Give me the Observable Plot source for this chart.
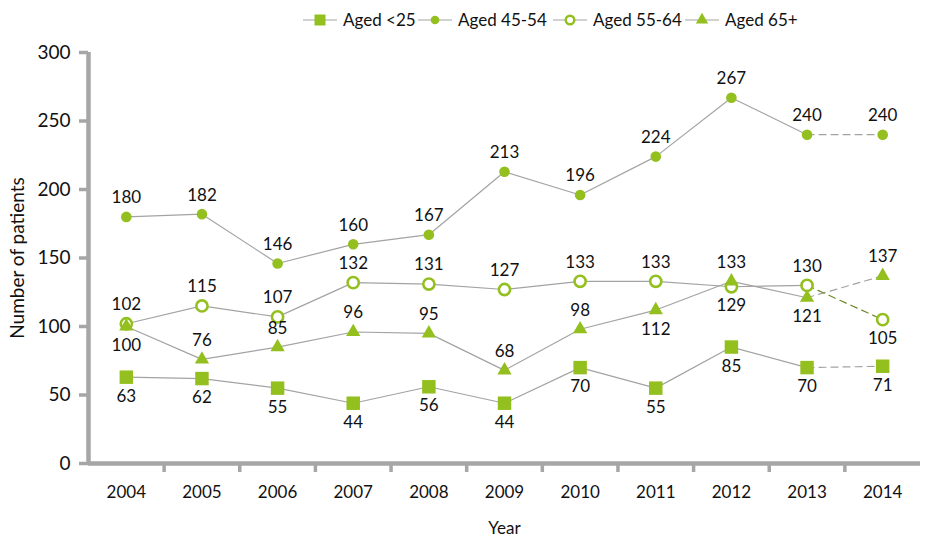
<!DOCTYPE html>
<html>
<head>
<meta charset="utf-8">
<script src="https://cdn.jsdelivr.net/npm/d3@7"></script>
<script src="https://cdn.jsdelivr.net/npm/@observablehq/plot@0.6"></script>
<style>
  html, body { margin: 0; padding: 0; background: #fff; }
  body { width: 934px; height: 541px; overflow: hidden; font-family: Lato, "Noto Sans", sans-serif; }
  #legend { position: relative; height: 40px; }
  .item { position: absolute; top: 9px; display: flex; align-items: center; font-size: 17px; color: #111; }
  .item svg { margin-right: 6px; }
</style>
</head>
<body>
<div id="legend"></div>
<div id="chart"></div>
<script>
const years = [2004, 2005, 2006, 2007, 2008, 2009, 2010, 2011, 2012, 2013, 2014];
const seriesNames = ["Aged <25", "Aged 45-54", "Aged 55-64", "Aged 65+"];
const under25 = [63, 62, 55, 44, 56, 44, 70, 55, 85, 70, 71];
const aged45_54 = [180, 182, 146, 160, 167, 213, 196, 224, 267, 240, 240];
const aged55_64 = [102, 115, 107, 132, 131, 127, 133, 133, 129, 130, 105];
const aged65plus = [100, 76, 85, 96, 95, 68, 98, 112, 133, 121, 137];
// which data labels sit below their point (1) or above (0)
const below25 = [1, 1, 1, 1, 1, 1, 1, 1, 1, 1, 1];
const below45 = [0, 0, 0, 0, 0, 0, 0, 0, 0, 0, 0];
const below55 = [0, 0, 0, 0, 0, 0, 0, 0, 1, 0, 1];
const below65 = [1, 0, 0, 0, 0, 0, 0, 1, 0, 1, 0];
const yTicks = [0, 50, 100, 150, 200, 250, 300];

const green = "#93c01f";
const lineGrey = "#a3a3a3";
const axisGrey = "#a6a6a6";

const valuesList = [under25, aged45_54, aged55_64, aged65plus];
const belowList = [below25, below45, below55, below65];
const symbols = ["square", "circle", "circle", "triangle"];
const fills = [green, green, "white", green];
const radii = [7.6, 5.3, 5.6, 5.3];

const data = [];
seriesNames.forEach((s, i) => years.forEach((yr, j) => data.push({
  series: s, idx: i, year: yr, value: valuesList[i][j], below: belowList[i][j]
})));

const solid = data.filter(d => d.year <= 2013);
const dashed = data.filter(d => d.year >= 2013);
const boundaries = years.slice(0, -1).map(y => y + 0.5);

const dotMarks = seriesNames.map((s, i) => Plot.dot(data.filter(d => d.idx === i), {
  x: "year", y: "value", symbol: () => symbols[i], r: radii[i],
  fill: fills[i], stroke: i === 2 ? green : "none", strokeWidth: i === 2 ? 2.6 : 0
}));

const chart = Plot.plot({
  width: 934,
  height: 501,
  marginLeft: 88,
  marginRight: 14,
  marginTop: 12,
  marginBottom: 78,
  style: { fontFamily: "Lato, 'Noto Sans', sans-serif", fontSize: "17px", color: "#111", background: "white" },
  symbol: { type: "identity" },
  x: { domain: [2003.5, 2014.5] },
  y: { domain: [0, 300] },
  marks: [
    Plot.axisY({ ticks: yTicks, tickSize: 9, tickFormat: () => "", stroke: axisGrey, strokeWidth: 3.5, label: null }),
    Plot.axisY({ ticks: yTicks, tickSize: 0, tickPadding: 18, fontSize: 19, fill: "#111",
      label: "Number of patients", labelAnchor: "center", labelArrow: "none", labelOffset: 78 }),
    Plot.axisX({ ticks: boundaries, tickSize: 9, tickFormat: () => "", stroke: axisGrey, strokeWidth: 3.5, label: null }),
    Plot.axisX({ ticks: years, tickSize: 0, tickPadding: 22, tickFormat: d => String(d),
      label: "Year", labelAnchor: "center", labelArrow: "none", labelOffset: 70, fontSize: 17 }),
    Plot.ruleX([2003.5], { y1: 0, y2: 300, stroke: axisGrey, strokeWidth: 4.5 }),
    Plot.ruleY([0], { x1: 2003.5, x2: 2014.5, stroke: axisGrey, strokeWidth: 4.5 }),
    Plot.line(solid, { x: "year", y: "value", z: "series", stroke: lineGrey, strokeWidth: 1.2 }),
    Plot.line(dashed.filter(d => d.idx !== 2), { x: "year", y: "value", z: "series", stroke: lineGrey, strokeWidth: 1.2, strokeDasharray: "7,5" }),
    Plot.line(dashed.filter(d => d.idx === 2), { x: "year", y: "value", stroke: "#6f8a2a", strokeWidth: 1.2, strokeDasharray: "7,5" }),
    ...dotMarks,
    Plot.text(data.filter(d => d.below), { x: "year", y: "value", text: d => String(d.value),
      dy: 19, fill: "#111", fontSize: 17 }),
    Plot.text(data.filter(d => !d.below), { x: "year", y: "value", text: d => String(d.value),
      dy: -19, fill: "#111", fontSize: 17 })
  ]
});
document.getElementById("chart").appendChild(chart);

// HTML legend above the chart
const legendLeft = [303, 418, 553, 685];
const legendR = [6.2, 4.3, 4.3, 4.6];
const legend = document.getElementById("legend");
seriesNames.forEach((s, i) => {
  const item = document.createElement("div");
  item.className = "item";
  item.style.left = legendLeft[i] + "px";
  const sym = d3.create("svg").attr("width", 34).attr("height", 20);
  sym.append("line").attr("x1", 0).attr("x2", 34).attr("y1", 10).attr("y2", 10).attr("stroke", lineGrey).attr("stroke-width", 1.2);
  const shape = d3.symbol().type(symbols[i] === "square" ? d3.symbolSquare : symbols[i] === "triangle" ? d3.symbolTriangle : d3.symbolCircle)
    .size(Math.PI * legendR[i] * legendR[i]);
  sym.append("path").attr("d", shape()).attr("transform", "translate(17,10)")
    .attr("fill", fills[i]).attr("stroke", i === 2 ? green : "none").attr("stroke-width", i === 2 ? 2.4 : 0);
  item.appendChild(sym.node());
  const t = document.createElement("span");
  t.textContent = s;
  item.appendChild(t);
  legend.appendChild(item);
});
</script>
</body>
</html>
